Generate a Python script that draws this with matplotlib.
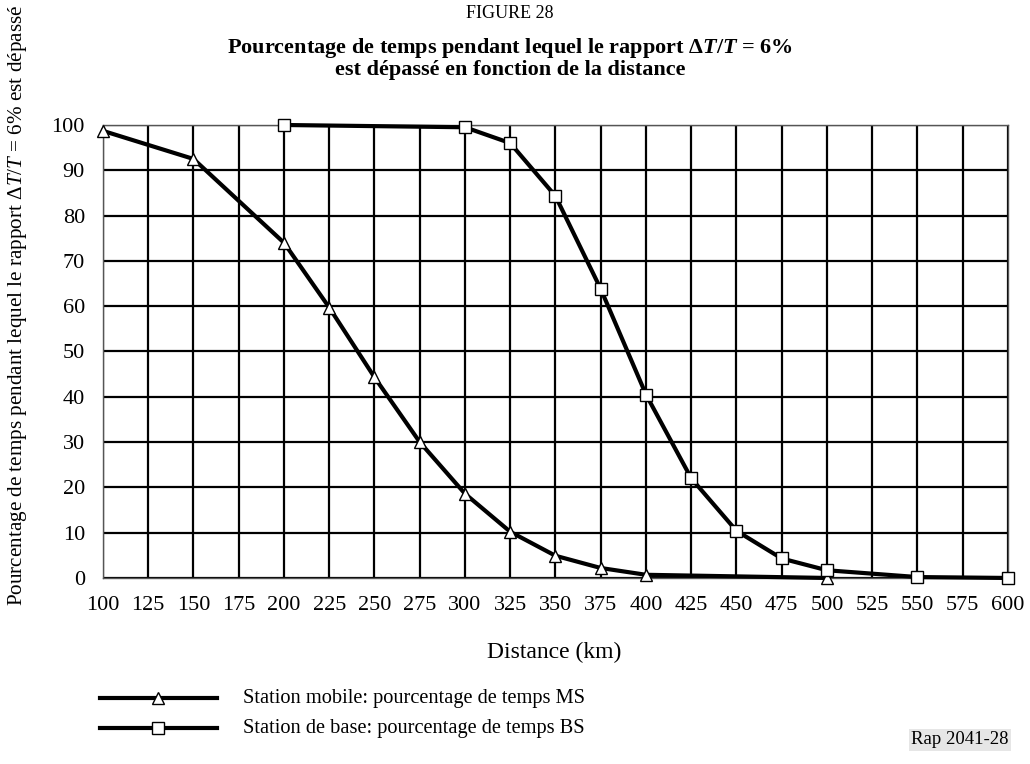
import matplotlib
matplotlib.use("Agg")
import matplotlib.pyplot as plt

plt.rcParams['font.family'] = ['Liberation Serif', 'DejaVu Serif']
plt.rcParams['mathtext.fontset'] = 'custom'
plt.rcParams['mathtext.rm'] = 'Liberation Serif'
plt.rcParams['mathtext.it'] = 'Liberation Serif:italic'
plt.rcParams['mathtext.bf'] = 'Liberation Serif:bold'
plt.rcParams['mathtext.bfit'] = 'Liberation Serif:bold:italic'

ms_dist = [100, 150, 200, 225, 250, 275, 300, 325, 350, 375, 400, 500]
ms_pct = [98.7, 92.5, 74, 59.7, 44.3, 30, 18.6, 10.2, 4.9, 2.2, 0.7, 0]
bs_dist = [200, 300, 325, 350, 375, 400, 425, 450, 475, 500, 550, 600]
bs_pct = [100, 99.5, 96, 84.3, 63.8, 40.5, 22, 10.4, 4.3, 1.7, 0.2, 0]
x_ticks = list(range(100, 601, 25))
y_ticks = list(range(0, 101, 10))

fig = plt.figure(figsize=(10.3, 7.64), dpi=100)
ax = fig.add_axes([0.1, 0.2435, 0.8786, 0.5929])

ax.plot(ms_dist, ms_pct, color='black', lw=3, marker='^', ms=9,
        mfc='white', mec='black', mew=1, zorder=3, clip_on=False)
ax.plot(bs_dist, bs_pct, color='black', lw=3, marker='s', ms=9,
        mfc='white', mec='black', mew=1, zorder=3, clip_on=False)

ax.set_xlim(100, 600)
ax.set_ylim(0, 100)
ax.set_xticks(x_ticks)
ax.set_yticks(y_ticks)
ax.grid(True, color='black', lw=1.6)
ax.set_axisbelow(True)
ax.tick_params(length=0, labelsize=16)
ax.tick_params(axis='x', pad=13)
ax.tick_params(axis='y', pad=13)
for s in ax.spines.values():
    s.set_color('#555555')
    s.set_linewidth(1.0)

fig.text(510 / 1030, 1 - 14 / 764, 'FIGURE 28', ha='center', va='center', fontsize=13)
fig.text(510 / 1030, 1 - 48 / 764,
         r'Pourcentage de temps pendant lequel le rapport $\mathbf{\Delta}\mathbfit{T}\mathbf{/}\mathbfit{T}$ = 6%',
         ha='center', va='center', fontsize=16, fontweight='bold')
fig.text(510 / 1030, 1 - 70 / 764, 'est dépassé en fonction de la distance',
         ha='center', va='center', fontsize=16, fontweight='bold')

fig.text(18 / 1030, 1 - 305 / 764,
         r'Pourcentage de temps pendant lequel le rapport $\Delta T/T$ = 6% est dépassé',
         rotation=90, ha='center', va='center', fontsize=15.2)

fig.text(554 / 1030, 1 - 652 / 764, 'Distance (km)', ha='center', va='center', fontsize=17)

# legend
for ypix, mk, lab in [(698, '^', 'Station mobile: pourcentage de temps MS'),
                      (728, 's', 'Station de base: pourcentage de temps BS')]:
    yf = 1 - ypix / 764
    fig.add_artist(plt.Line2D([100 / 1030, 217 / 1030], [yf, yf], color='black', lw=3,
                              transform=fig.transFigure))
    fig.add_artist(plt.Line2D([158 / 1030], [yf], marker=mk, ms=8, mfc='white', mec='black',
                              mew=1, transform=fig.transFigure, ls='none'))
    fig.text(243 / 1030, yf, lab, ha='left', va='center', fontsize=14.7)

fig.text(960 / 1030, 1 - 740 / 764, 'Rap 2041-28', ha='center', va='center', fontsize=13.5,
         bbox=dict(facecolor='#e6e6e6', edgecolor='none', pad=1.5))

fig.savefig('out.png', dpi=100)
